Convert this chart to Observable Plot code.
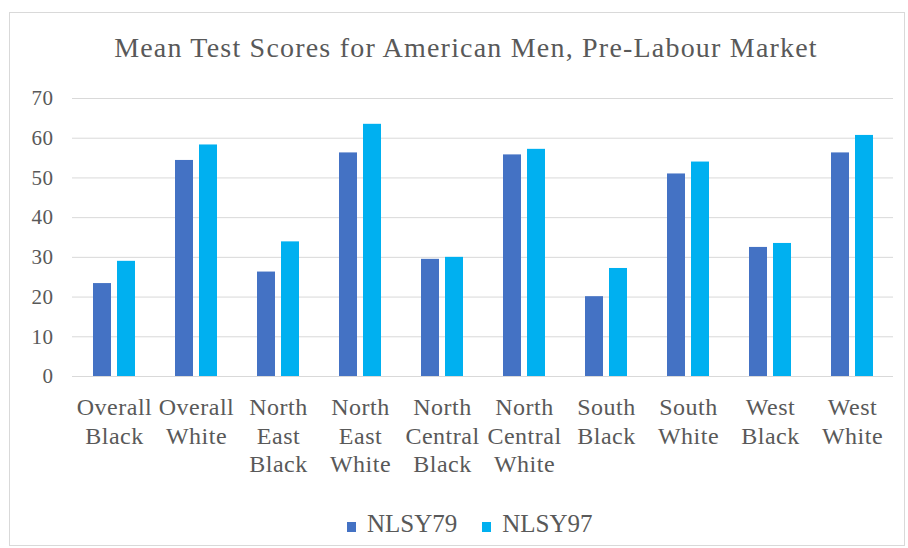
<!DOCTYPE html>
<html>
<head>
<meta charset="utf-8">
<script src="https://cdn.jsdelivr.net/npm/d3@7"></script>
<script src="https://cdn.jsdelivr.net/npm/@observablehq/plot@0.6"></script>
<style>
  html, body { margin: 0; padding: 0; background: #fff; }
  #wrap { position: relative; width: 908px; height: 548px; overflow: hidden; font-family: 'Liberation Serif', serif; color: #595959; }
  #frame { position: absolute; left: 9px; top: 12px; width: 896px; height: 534px; border: 1px solid #d9d9d9; box-sizing: border-box; }
  #title { position: absolute; left: 0; top: 34px; width: 932px; text-align: center; font-family: 'Liberation Serif', serif; font-size: 28px; line-height: 28px; letter-spacing: 1.2px; white-space: nowrap; }
  #chart { position: absolute; left: 0; top: 80px; }
  #chart svg text { letter-spacing: 0.5px; }
  #legend { position: absolute; left: 347px; top: 511px; height: 25px; font-family: 'Liberation Serif', serif; font-size: 25px; line-height: 25px; display: flex; white-space: nowrap; }
  .item { display: flex; align-items: flex-start; }
  .sw { width: 9px; height: 10px; margin-top: 11px; margin-right: 11px; }
  .item + .item { margin-left: 25px; }
</style>
</head>
<body>
<div id="wrap">
  <div id="frame"></div>
  <div id="title">Mean Test Scores for American Men, Pre-Labour Market</div>
  <div id="chart"></div>
  <div id="legend"></div>
</div>
<script>
const categories = ["Overall Black", "Overall White", "North East Black", "North East White", "North Central Black", "North Central White", "South Black", "South White", "West Black", "West White"];
const tickLabels = ["Overall\nBlack", "Overall\nWhite", "North\nEast\nBlack", "North\nEast\nWhite", "North\nCentral\nBlack", "North\nCentral\nWhite", "South\nBlack", "South\nWhite", "West\nBlack", "West\nWhite"];
const nlsy79 = [23.4, 54.4, 26.3, 56.3, 29.5, 55.8, 20.1, 51.0, 32.5, 56.3];
const nlsy97 = [29.0, 58.3, 33.9, 63.5, 30.0, 57.2, 27.2, 54.0, 33.5, 60.7];
const seriesNames = ["NLSY79", "NLSY97"];
const seriesColors = ["#4472C4", "#00B0F0"];
const yTicks = [0, 10, 20, 30, 40, 50, 60, 70];

const d79 = categories.map((c, i) => ({cat: c, v: nlsy79[i]}));
const d97 = categories.map((c, i) => ({cat: c, v: nlsy97[i]}));

const chart = Plot.plot({
  width: 908,
  height: 396,
  marginLeft: 72,
  marginRight: 15,
  marginTop: 18,
  marginBottom: 100,
  style: {fontFamily: "'Liberation Serif', serif", color: "#595959", background: "transparent"},
  x: {domain: categories, paddingInner: 0.49, paddingOuter: 0.245, axis: null},
  y: {domain: [0, 70], axis: null},
  marks: [
    Plot.gridY(yTicks, {stroke: "#d9d9d9", strokeOpacity: 1, strokeWidth: 1}),
    Plot.barY(d79, {x: "cat", y: "v", fill: seriesColors[0], insetRight: 24}),
    Plot.barY(d97, {x: "cat", y: "v", fill: seriesColors[1], insetLeft: 24}),
    Plot.axisX({tickSize: 0, tickPadding: 19, fontSize: 24, lineHeight: 1.17, fill: "#595959",
      tickFormat: d => tickLabels[categories.indexOf(d)], label: null}),
    Plot.axisY(yTicks, {tickSize: 0, tickPadding: 19, fontSize: 21, fill: "#595959", label: null})
  ]
});
chart.style.fontFamily = "'Liberation Serif', serif";
document.getElementById("chart").appendChild(chart);

const legend = document.getElementById("legend");
seriesNames.forEach((n, i) => {
  const it = document.createElement("div");
  it.className = "item";
  const sw = document.createElement("div");
  sw.className = "sw";
  sw.style.background = seriesColors[i];
  const t = document.createElement("span");
  t.textContent = n;
  it.appendChild(sw);
  it.appendChild(t);
  legend.appendChild(it);
});
</script>
</body>
</html>
